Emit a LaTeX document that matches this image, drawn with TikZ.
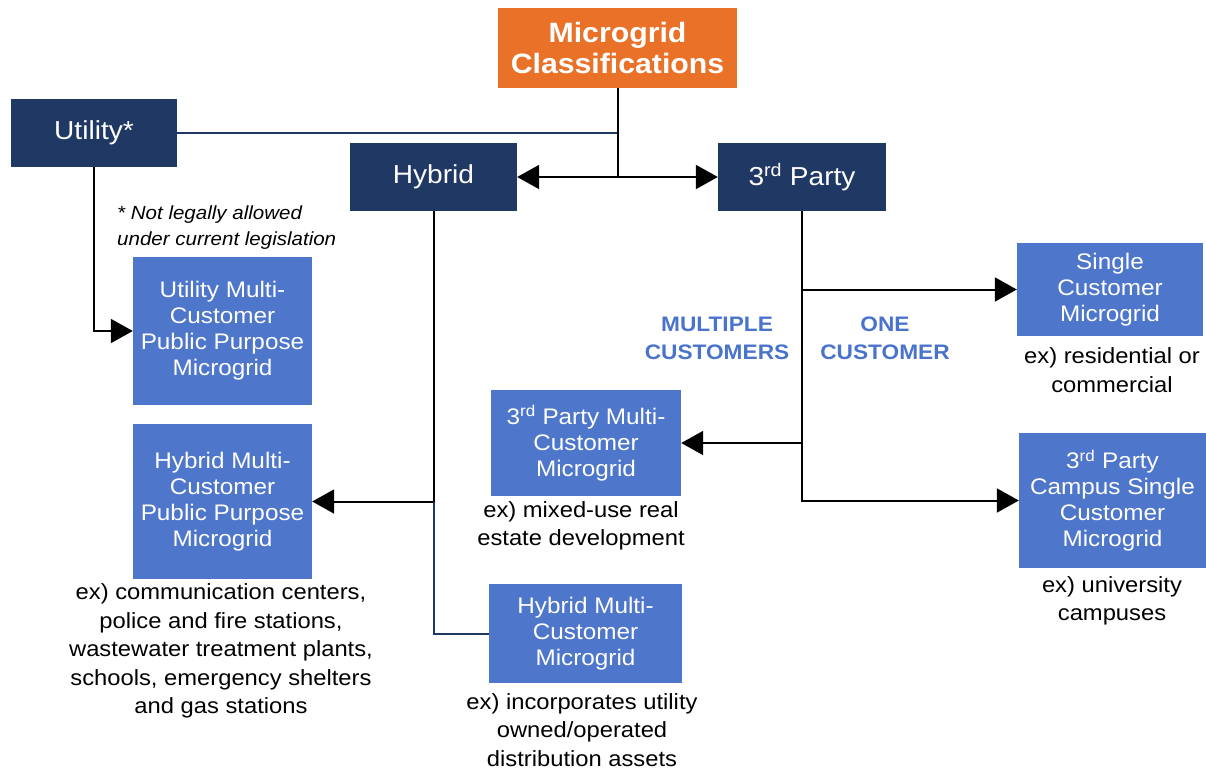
\documentclass[tikz,border=0pt]{standalone}
\usepackage{fontspec}
\setmainfont[FakeStretch=1.08]{Liberation Sans}
\usetikzlibrary{arrows.meta}

\definecolor{navybox}{HTML}{203864}
\definecolor{bluebox}{HTML}{4E76CA}
\definecolor{orangebox}{HTML}{E97128}
\definecolor{labelblue}{HTML}{4A74CC}

\tikzset{
  darkbox/.style={fill=navybox, text=white, inner sep=0pt, align=center,
    font=\fontsize{26}{30}\selectfont},
  lightbox/.style={fill=bluebox, text=white, inner sep=0pt, align=center,
    font=\fontsize{22.5}{26}\selectfont},
  titlebox/.style={fill=orangebox, text=white, inner sep=0pt, align=center,
    font=\bfseries\fontsize{28}{31}\selectfont},
  caption/.style={inner sep=0pt, align=center,
    font=\fontsize{22}{28.5}\selectfont},
  tag/.style={inner sep=0pt, align=center, text=labelblue,
    font=\bfseries\fontsize{21}{28}\selectfont},
  note/.style={inner sep=0pt, align=left,
    font=\itshape\fontsize{19}{26}\selectfont},
  link/.style={line width=2pt, draw=black},
  navylink/.style={line width=2pt, draw=navybox},
  arrowed/.style={-{Triangle[length=22pt, width=24pt]}},
}

\begin{document}
\begin{tikzpicture}[x=1pt, y=-1pt]
  \useasboundingbox (0,0) rectangle (1206,770);

  % top level
  \node[titlebox, minimum width=239pt, minimum height=80pt] (mc) at (617.5,48)
    {Microgrid\\Classifications};
  \node[darkbox, minimum width=166pt, minimum height=68pt] (util) at (94,133) {Utility*};
  \node[darkbox, minimum width=167pt, minimum height=67pt] (hyb) at (433.5,177) {Hybrid};
  \node[darkbox, minimum width=168pt, minimum height=68pt] (tp) at (802,177)
    {3\textsuperscript{rd} Party};

  % microgrid types
  \node[lightbox, minimum width=179pt, minimum height=148pt] (umc) at (222.5,331)
    {Utility Multi-\\Customer\\Public Purpose\\Microgrid};
  \node[lightbox, minimum width=179pt, minimum height=155pt] (hmcpp) at (222.5,501.5)
    {Hybrid Multi-\\Customer\\Public Purpose\\Microgrid};
  \node[lightbox, minimum width=190pt, minimum height=106pt] (tpmc) at (586,443)
    {3\textsuperscript{rd} Party Multi-\\Customer\\Microgrid};
  \node[lightbox, minimum width=193pt, minimum height=99pt] (hmc) at (585.5,633.5)
    {Hybrid Multi-\\Customer\\Microgrid};
  \node[lightbox, minimum width=186pt, minimum height=93pt] (scm) at (1110,289.5)
    {Single\\Customer\\Microgrid};
  \node[lightbox, minimum width=187pt, minimum height=135pt] (tpcs) at (1112.5,500.5)
    {3\textsuperscript{rd} Party\\Campus Single\\Customer\\Microgrid};

  % captions and labels
  \node[note, anchor=west] (legal) at (117,228)
    {* Not legally allowed\\under current legislation};
  \node[tag] (multi) at (717,338) {MULTIPLE\\CUSTOMERS};
  \node[tag] (one) at (885,338) {ONE\\CUSTOMER};
  \node[caption] (cap1) at (221,651)
    {ex) communication centers,\\police and fire stations,\\wastewater treatment plants,\\schools, emergency shelters\\and gas stations};
  \node[caption] (cap2) at (581,526) {ex) mixed-use real\\estate development};
  \node[caption] (cap3) at (582,730)
    {ex) incorporates utility\\owned/operated\\distribution assets};
  \node[caption] (cap4) at (1112,370) {ex) residential or\\commercial};
  \node[caption] (cap5) at (1112,601) {ex) university\\campuses};

  % connectors from the classification box
  \draw[navylink] (util.east) -- (util.east -| mc.south);
  \coordinate (split) at (mc.south |- hyb.east);
  \draw[link] (mc.south) -- (split);
  \draw[link, arrowed] (split) -- (hyb.east);
  \draw[link, arrowed] (split) -- (tp.west);

  % utility branch
  \draw[link, arrowed] (util.south) |- (umc.west);

  % hybrid branch
  \coordinate (hybjoin) at (hyb.south |- hmcpp.east);
  \draw[link, arrowed] (hyb.south) |- (hmcpp.east);
  \draw[navylink] (hybjoin) |- (hmc.west);

  % third party branch
  \draw[link, arrowed] (tp.south) |- (tpcs.west);
  \draw[link, arrowed] (tp.south |- scm.west) -- (scm.west);
  \draw[link, arrowed] (tp.south |- tpmc.east) -- (tpmc.east);
\end{tikzpicture}
\end{document}
